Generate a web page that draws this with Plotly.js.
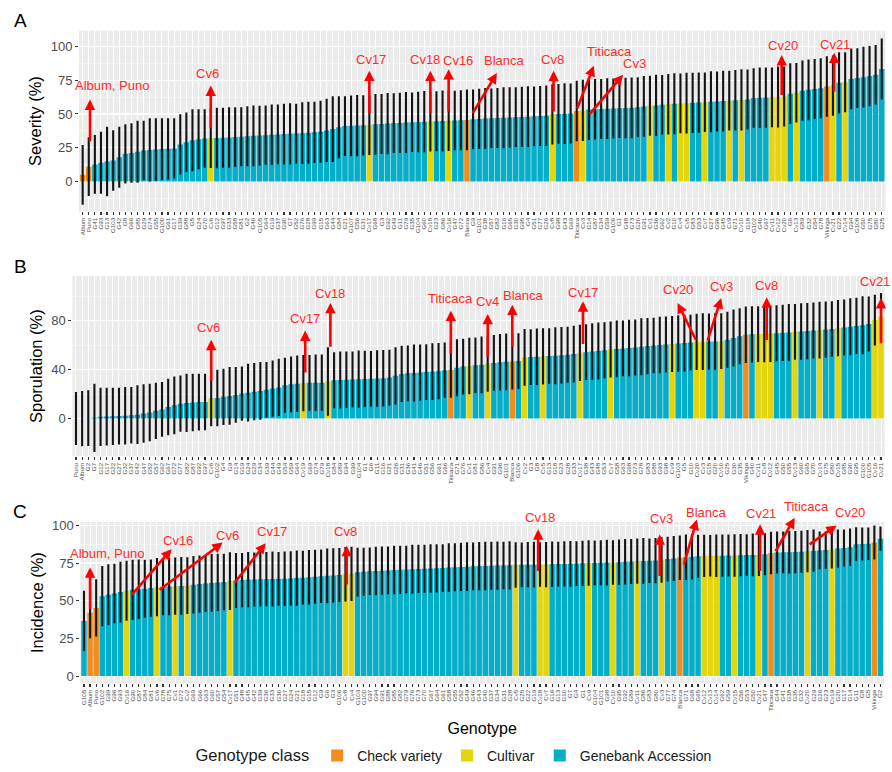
<!DOCTYPE html>
<html><head><meta charset="utf-8">
<script src="https://cdn.plot.ly/plotly-3.0.1.min.js"></script>
<style>html,body{margin:0;padding:0;background:#fff}#chart{width:892px;height:772px}</style>
</head><body><div id="chart"></div>
<script>
// ---------------- DATA ----------------
const checkVarieties = ['Album','Puno','Blanca','Titicaca','Vikinga'];
const classNames = ['Check variety','Cultivar','Genebank Accession'];
const classColors = ['#F28C1E','#E5D50C','#03AEC9'];

// Panel A : Severity (%) – genotypes in plotted order
const genotypesA = ("Album Puno G41 G93 G13 G103 G42 G8 G66 G85 G29 G74 G55 G100 G61 G17 G39 G88 G5 G24 G70 Cv6 " +
 "G12 G97 G33 G58 G81 G2 G46 G105 G64 G19 G37 G90 G7 G52 G76 G28 G99 G15 G63 G44 G84 G21 G107 G56 G31 Cv17 " +
 "G68 G3 G92 G49 G11 G79 G35 G104 G60 Cv18 G23 G86 Cv16 G47 G72 Blanca G9 G101 G38 G57 G82 G16 G65 G30 G95 G4 G51 G77 G26 Cv8 " +
 "G98 G43 G69 Titicaca Cv3 G14 G87 G34 G59 G106 G1 G48 G73 G20 G91 Cv1 G36 G62 Cv2 G10 Cv4 Cv5 G83 G53 Cv7 G27 G96 G45 Cv9 G71 Cv10 " +
 "G18 G102 G40 G67 Cv11 Cv12 Cv20 G6 Cv13 G89 G32 G54 G78 Vikinga Cv21 G22 Cv14 G94 G108 G50 G75 G80 G25").split(' ');
const severityMean = [
 5.0,11.0,12.7,13.9,14.8,15.6,18.0,20.5,21.2,22.0,
 22.9,23.4,23.7,24.0,24.2,24.5,27.5,29.0,30.5,31.3,
 31.8,32.0,32.2,32.4,32.6,32.9,33.2,33.5,33.8,34.0,
 34.3,34.6,34.9,35.1,35.3,35.5,35.8,36.1,36.4,36.8,
 37.8,38.8,40.2,41.0,41.2,41.4,41.6,41.7,42.3,42.6,
 42.9,43.2,43.4,43.7,43.9,44.1,44.3,44.4,44.6,44.8,
 45.0,45.2,45.4,45.6,46.0,46.3,46.6,46.8,47.0,47.2,
 47.4,47.6,47.8,48.0,48.3,48.5,48.7,49.7,50.0,50.2,
 50.4,52.2,52.6,53.3,53.5,53.7,53.9,54.0,54.2,54.4,
 54.5,55.0,55.6,56.0,56.3,56.8,57.2,57.5,57.8,58.0,
 58.2,58.4,58.7,59.0,59.2,59.5,59.8,60.1,60.4,60.7,
 61.8,62.0,62.1,62.3,62.5,62.9,65.0,65.6,67.2,67.8,
 68.4,69.0,70.3,71.0,73.0,73.4,75.9,76.5,77.2,78.0,
 79.0,83.2];
const severitySD = [
 22.1,21.7,21.7,22.9,25.7,22.4,22.5,21.9,22.0,22.9,
 22.0,23.4,23.1,22.8,22.6,22.3,22.2,22.0,22.9,22.1,
 21.6,22.0,22.3,22.1,22.4,22.0,21.8,22.2,22.5,22.1,
 21.9,22.3,22.0,22.4,22.6,22.1,22.8,23.0,22.6,22.9,
 23.4,24.3,22.9,22.1,22.5,22.7,22.3,22.0,22.4,22.2,
 22.6,22.1,22.3,22.5,22.0,22.4,22.6,22.2,22.1,22.5,
 22.3,22.0,22.2,22.4,22.1,22.3,22.5,22.0,22.2,22.6,
 22.4,22.1,22.3,22.5,22.0,22.2,22.4,22.3,22.1,22.5,
 22.2,22.4,22.6,22.5,22.3,22.1,22.4,22.2,22.0,22.3,
 22.5,22.1,22.4,22.2,22.6,22.0,22.3,22.5,22.1,22.4,
 22.2,22.3,22.0,22.5,22.2,22.4,22.1,22.3,22.6,22.2,
 22.0,22.4,22.3,22.1,22.5,22.2,22.4,22.0,22.3,22.5,
 22.2,22.1,22.4,22.3,22.6,22.2,22.5,22.1,22.4,22.3,
 22.0,22.6];

// Panel B : Sporulation (%)
const genotypesB = ("Puno Album G2 G7 G12 G17 G22 G27 G32 G37 G42 G47 G52 G57 G62 G67 G72 G77 G82 G87 G92 G97 Cv6 " +
 "G102 G4 G9 G14 G19 G24 G29 G34 G39 G44 G49 G54 G59 G64 Cv19 G69 G74 G79 Cv18 " +
 "G84 G89 G94 G99 G104 G1 G6 G11 G16 G21 G26 G31 G36 G41 G46 G51 G56 G61 G66 Titicaca G71 G76 Cv1 G81 G86 Cv4 " +
 "G91 G96 G101 Blanca G106 Cv2 G3 G8 Cv5 G13 G18 G23 G28 G33 Cv17 G38 G43 G48 G53 Cv7 G58 G63 G68 G73 G78 G83 G88 G93 G98 Cv9 " +
 "G103 G5 G10 Cv20 Cv3 G15 G20 Cv10 G25 G30 G35 Vikinga G40 Cv11 Cv8 Cv12 G45 G50 G55 Cv13 G60 G65 G70 Cv14 G75 G80 Cv15 " +
 "G85 G90 G95 G100 G105 Cv16 Cv21").split(' ');
const sporulationMean = [
 0,0,0.3,0.6,1.4,1.6,1.8,2.0,2.3,2.7,
 3.2,4.1,5.0,6.3,7.5,9.5,10.8,12.2,12.8,13.2,
 13.5,13.6,16.6,16.8,17.8,18.5,19.3,20.4,21.2,22.0,
 22.6,23.5,24.5,25.5,27.2,28.0,28.5,29.0,29.2,29.3,
 29.4,30.3,31.4,31.6,31.8,32.0,32.2,32.4,32.6,32.8,
 33.0,33.5,35.0,36.5,37.0,37.3,37.6,38.0,38.4,38.8,
 39.6,40.0,41.5,42.5,43.0,43.6,44.0,45.0,45.5,46.0,
 46.4,46.7,47.0,50.0,50.3,50.6,50.9,51.2,51.4,51.8,
 52.3,52.8,53.8,54.3,54.8,55.3,55.9,56.5,57.0,57.4,
 57.8,58.2,58.7,59.3,59.8,60.2,60.6,61.0,61.4,61.8,
 62.2,62.8,62.9,63.0,63.1,63.3,64.5,66.0,67.4,68.6,
 68.9,69.1,69.2,69.4,69.8,70.2,70.5,71.0,71.3,71.6,
 72.0,72.4,72.8,73.3,74.0,74.6,75.2,75.8,76.3,77.3,
 80.6,83.3];
const sporulationSD = [
 21.7,22.6,22.8,27.9,23.9,23.7,23.5,23.3,23.5,23.1,
 24.0,23.9,23.5,23.0,22.4,23.1,23.7,23.1,23.9,23.5,
 23.2,23.1,23.0,23.1,23.0,23.6,22.8,22.3,23.6,23.4,
 23.6,22.7,23.1,23.4,22.5,22.8,23.1,23.0,22.8,23.2,
 23.0,28.0,22.9,23.3,23.1,22.8,23.4,23.0,22.7,23.2,
 23.1,22.9,23.4,23.0,22.8,23.3,23.1,22.9,23.2,23.0,
 22.6,23.0,23.3,22.9,23.1,22.7,23.2,23.0,22.8,23.1,
 23.3,23.0,22.9,23.2,22.8,23.1,23.0,22.7,23.3,23.1,
 22.9,23.2,23.0,22.8,23.1,23.3,22.9,23.0,23.2,22.8,
 23.1,22.9,23.3,23.0,22.7,23.2,23.0,22.9,23.1,23.3,
 22.8,23.0,23.2,22.9,23.1,22.8,23.0,23.3,22.9,23.1,
 23.0,22.8,23.2,23.1,22.9,23.0,23.3,22.8,23.1,23.0,
 22.9,23.2,23.0,22.8,23.1,22.9,23.3,23.0,23.7,22.5,
 20.8,19.4];

// Panel C : Incidence (%)
const genotypesC = ("G105 Album Puno G102 G99 G96 G93 Cv16 G90 G87 G84 G81 Cv6 G78 G75 Cv1 G72 Cv2 G69 G66 G63 G60 G57 G54 Cv17 " +
 "G51 G48 G45 G42 G39 G36 G33 G30 G27 G24 G21 G18 G15 G12 G9 G6 G3 G106 Cv8 Cv4 " +
 "G103 G100 G97 G94 G91 G88 G85 G82 G79 G76 G73 G70 G67 G64 G61 G58 G55 G52 G49 G46 G43 G40 G37 G34 G31 G28 Cv5 " +
 "G25 G22 G19 Cv18 Cv7 G16 G13 G10 G7 G4 G1 Cv9 G104 G101 G98 Cv10 G95 G92 G89 Cv11 G86 G83 G80 Cv3 G77 G74 Blanca " +
 "G71 G68 G65 Cv12 Cv13 Cv14 G62 G59 Cv15 G56 G53 G50 Cv21 G47 Titicaca G44 G41 G38 G35 G32 Cv20 G29 G26 G23 Cv19 " +
 "G20 G17 G14 G11 G8 G5 Vikinga G2").split(' ');
const incidenceMean = [
 36.6,42.0,45.2,53.0,54.0,54.8,55.7,56.6,57.2,57.6,
 58.0,58.4,59.0,59.2,59.4,59.6,59.8,60.0,60.6,61.0,
 61.4,61.8,62.1,62.4,63.0,63.4,63.7,64.0,64.1,64.2,
 64.3,64.4,64.5,64.6,64.8,65.0,65.3,65.6,65.9,66.2,
 66.5,66.8,67.0,67.6,67.8,68.9,69.2,69.5,69.7,69.9,
 70.1,70.3,70.5,70.7,70.9,71.1,71.2,71.4,71.5,71.7,
 72.0,72.2,72.4,72.6,72.8,73.0,73.1,73.2,73.3,73.4,
 73.5,73.7,73.8,73.9,73.9,74.0,74.0,74.2,74.3,74.4,
 74.5,74.6,74.8,75.0,75.1,75.2,75.3,75.4,75.6,75.8,
 76.0,76.3,76.4,76.5,76.6,77.0,77.6,78.0,78.5,78.8,
 79.1,79.5,79.8,79.8,79.8,79.9,80.0,80.0,80.2,80.3,
 80.4,80.4,80.8,81.6,82.0,82.1,82.2,82.3,82.5,82.9,
 83.2,83.4,83.6,83.8,84.6,85.0,85.5,87.5,87.6,87.8,
 88.6,91.2];
const incidenceSD = [
 20.0,17.0,19.0,20.0,20.2,19.8,20.1,19.9,20.0,19.7,
 19.2,19.0,19.3,18.9,19.1,19.0,19.2,18.8,19.1,19.0,
 18.9,19.2,19.0,18.8,19.1,18.2,18.0,18.3,17.9,18.1,
 18.0,18.2,17.8,18.1,18.0,18.3,17.9,18.1,18.0,17.8,
 18.2,18.0,17.9,18.1,18.0,16.2,16.0,15.8,16.1,16.0,
 15.9,16.1,16.0,15.8,16.2,16.0,15.9,16.1,16.0,15.8,
 16.1,15.9,16.0,16.2,15.8,16.0,16.1,15.9,16.0,15.8,
 16.0,15.1,14.9,15.0,15.2,14.8,15.0,15.1,14.9,15.0,
 15.2,14.8,15.0,15.1,14.9,15.0,15.2,14.8,15.0,15.1,
 14.9,15.0,15.2,14.8,15.0,15.1,14.9,15.0,14.8,15.1,
 15.0,14.2,14.0,13.8,14.1,14.0,13.9,14.1,14.0,13.8,
 14.2,14.0,13.9,14.1,14.0,13.8,14.2,14.0,13.9,14.1,
 14.0,12.6,12.4,12.5,12.7,12.3,12.5,11.2,11.0,10.8,
 11.3,8.0];

// Highlight labels: [text, genotype, tailDx, tailY, headDx, headY, textDx, textY]
const labelsA = [
 ['Album, Puno','Puno',0.2,29,0.2,60.7,3.8,71],
 ['Cv6','Cv6',0,38.8,0,71,-0.6,79.7],
 ['Cv17','Cv17',0,49.7,0,82,0.3,90.5],
 ['Cv18','Cv18',0,49.7,0,82,-0.9,90],
 ['Cv16','Cv16',0,51,0,83.1,1.6,89.2],
 ['Blanca','Blanca',0.8,49.7,4.9,80.2,6.2,89.2],
 ['Cv8','Cv8',0.2,51,0.2,81.9,0,90],
 ['Titicaca','Titicaca',0,53.4,2.8,85.6,5.4,95.8],
 ['Cv3','Cv3',0.9,49,6.6,79,8.4,87.5],
 ['Cv20','Cv20',-0.4,63.1,-0.4,93.6,-0.2,100.5],
 ['Cv21','Cv21',0.2,65.6,0.2,95.3,0.4,101.7]
];
const labelsB = [
 ['Cv6','Cv6',0,29.9,0,64.4,-0.5,74.2],
 ['Cv17','Cv19',0.3,36.7,0.3,72,0.3,81.8],
 ['Cv18','Cv18',0.4,57.9,0.4,94.6,0.4,102.7],
 ['Titicaca','Titicaca',0,52.4,0,88.3,0,98.6],
 ['Cv4','Cv4',0,49.7,0,85.6,0,95.4],
 ['Blanca','Blanca',0,57.9,0,93.2,1.9,100.8],
 ['Cv17','Cv17',0.5,60,0.5,95.9,0.5,103.5],
 ['Cv20','Cv20',0,63.3,-3.1,94.6,-3.1,105.4],
 ['Cv3','Cv3',0.7,62.8,3,98.6,3.1,108],
 ['Cv8','Cv8',0.4,63.3,0.4,99.2,0.4,109],
 ['Cv21','Cv21',0,60.6,0,98.6,-0.9,112.2]
];
const labelsC = [
 ['Album, Puno','Album',0,43.6,0,72.1,2.8,81.6],
 ['Cv16','Cv16',0.6,53,7.4,84.2,8.5,89.7],
 ['Cv6','Cv6',0.2,56.8,10.8,88.6,11.6,93.4],
 ['Cv17','Cv17',0.6,61.2,5.9,88.2,7.0,95.8],
 ['Cv8','Cv8',0.2,60,0.2,86.4,0,95.8],
 ['Cv18','Cv18',-0.3,68.9,-0.3,97.4,0,105],
 ['Cv3','Cv3',-0.3,65.6,-0.3,94,0,104.4],
 ['Blanca','Blanca',0.6,73.2,2.8,103.9,4.4,108.8],
 ['Cv21','Cv21',0.2,68.9,0.2,100.7,0.4,107.9],
 ['Titicaca','Titicaca',0.6,82,3.9,105,5.8,112.3],
 ['Cv20','Cv20',0.1,86.8,4.8,100,7,108.8]
];

// ---------------- LAYOUT GEOMETRY ----------------
const W = 892, H = 772;
const FONT = 'Liberation Sans, Arial, Helvetica, sans-serif';
const panels = [
 {key:'', letter:'A', title:'Severity (%)', g:genotypesA, m:severityMean, s:severitySD, ann:labelsA,
  xdom:[0.08857,0.99260], ydom:[0.72409,0.95984], yrange:[-22,111.5], dtick:25, minor:12.5, letterY:21},
 {key:'2', letter:'B', title:'Sporulation (%)', g:genotypesB, m:sporulationMean, s:sporulationSD, ann:labelsB,
  xdom:[0.08105,0.99182], ydom:[0.40415,0.63990], yrange:[-31,116.8], dtick:40, minor:20, letterY:269},
 {key:'3', letter:'C', title:'Incidence (%)', g:genotypesC, m:incidenceMean, s:incidenceSD, ann:labelsC,
  xdom:[0.09008,0.99114], ydom:[0.10790,0.31865], yrange:[-4.87,102.3], dtick:25, minor:12.5, letterY:516}
];

function classOf(g){
  if (checkVarieties.indexOf(g) >= 0) return 0;
  if (/^Cv\d+$/.test(g)) return 1;
  return 2;
}

const traces = [];
const layout = {
  width: W, height: H, autosize:false,
  margin:{l:0,r:0,t:0,b:0},
  paper_bgcolor:'#FFFFFF', plot_bgcolor:'#EBEBEB',
  font:{family:FONT, color:'#1a1a1a'},
  barmode:'overlay', showlegend:true,
  legend:{orientation:'h', x:0.51, xanchor:'center', y:1-762/H, yanchor:'middle',
    title:{text:'Genotype class', side:'left', font:{size:16.5, color:'#1a1a1a'}},
    font:{size:14, color:'#1a1a1a'}, traceorder:'normal', itemwidth:30, bgcolor:'rgba(0,0,0,0)'},
  annotations:[]
};

panels.forEach((p, pi) => {
  const xr = [-0.6, p.g.length - 0.4];
  classNames.forEach((cn, ci) => {
    const idx = p.g.map((g,i)=>i).filter(i => classOf(p.g[i]) === ci);
    traces.push({
      type:'bar', name:cn, legendgroup:cn, showlegend: pi === 0,
      x: idx.map(i => p.g[i]), y: idx.map(i => p.m[i]),
      width:0.9,
      marker:{color:classColors[ci], line:{width:0}},
      error_y:{type:'data', array: idx.map(i => p.s[i]), visible:true, color:'#141414', thickness:2.1, width:0},
      xaxis:'x'+p.key, yaxis:'y'+p.key, hoverinfo:'x+y'
    });
  });
  layout['xaxis'+p.key] = {
    domain:p.xdom, anchor:'y'+p.key, type:'category',
    categoryorder:'array', categoryarray:p.g, range:xr,
    tickmode:'array', tickvals:p.g, ticktext:p.g,
    tickangle:-90, tickfont:{size:6.2, color:'#4D4D4D', family:FONT},
    ticks:'outside', ticklen:3, tickwidth:1.2, tickcolor:'#333333',
    showgrid:true, gridcolor:'#FFFFFF', gridwidth:1,
    zeroline:false, showline:false, fixedrange:true
  };
  if (p.key === '3') {
    layout['xaxis'+p.key].title = {text:'Genotype', font:{size:16, color:'#000000'}, standoff:12};
  }
  layout['yaxis'+p.key] = {
    domain:p.ydom, anchor:'x'+p.key, range:p.yrange,
    tick0:0, dtick:p.dtick, tickmode:'linear',
    tickfont:{size:13, color:'#4D4D4D', family:FONT},
    ticks:'outside', ticklen:3, tickwidth:1, tickcolor:'#333333',
    showgrid:true, gridcolor:'#FFFFFF', gridwidth:1.2,
    minor:{dtick:p.minor, tick0:0, showgrid:true, gridcolor:'#FFFFFF', gridwidth:0.5},
    zeroline:false, showline:false, fixedrange:true,
    title:{text:p.title, font:{size:16.5, color:'#000000'}, standoff:4}
  };

  // panel letter
  layout.annotations.push({xref:'paper', yref:'paper', x:20/W, y:1-p.letterY/H, text:p.letter,
    showarrow:false, xanchor:'center', yanchor:'middle', font:{size:19, color:'#000000'}});

  const px = v => p.xdom[0] + (v - xr[0])/(xr[1]-xr[0])*(p.xdom[1]-p.xdom[0]);
  const py = v => p.ydom[0] + (v - p.yrange[0])/(p.yrange[1]-p.yrange[0])*(p.ydom[1]-p.ydom[0]);
  p.ann.forEach(a => {
    const [txt, gen, tdx, ty, hdx, hy, xdx, xy] = a;
    const gi = p.g.indexOf(gen);
    const hxP = px(gi + hdx), hyP = py(hy), txP = px(gi + tdx), tyP = py(ty);
    layout.annotations.push({xref:'paper', yref:'paper', x:hxP, y:hyP,
      ax:(txP - hxP)*W, ay:-(tyP - hyP)*H, axref:'pixel', ayref:'pixel',
      text:'', showarrow:true, arrowhead:2, arrowsize:0.8, arrowwidth:2.6,
      arrowcolor:'#FF0000', standoff:0, startstandoff:0});
    layout.annotations.push({xref:'paper', yref:'paper', x:px(gi + xdx), y:py(xy), text:txt,
      showarrow:false, xanchor:'center', yanchor:'middle',
      font:{size:13, color:'#FF2A2A', family:FONT}});
  });
});

Plotly.newPlot('chart', traces, layout, {displayModeBar:false, staticPlot:true});
</script>
</body></html>
